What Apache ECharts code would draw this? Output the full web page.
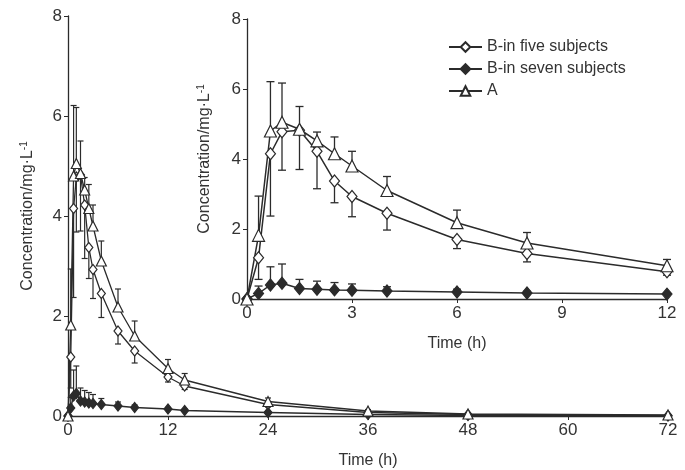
<!DOCTYPE html>
<html><head><meta charset="utf-8">
<script src="https://cdn.jsdelivr.net/npm/echarts@6/dist/echarts.min.js"></script>
<style>html,body{margin:0;padding:0;background:#fff}#c{width:685px;height:470px}</style>
</head><body><div id="c"></div>
<script>
// Data
const times   = [0, 0.33, 0.67, 1, 1.5, 2, 2.5, 3, 4, 6, 8, 12, 14, 24, 36, 48, 72];
const aMean   = [0, 1.82, 4.80, 5.05, 4.85, 4.52, 4.15, 3.80, 3.10, 2.18, 1.60, 0.95, 0.72, 0.29, 0.10, 0.04, 0.02];
const aErr    = [0, 1.12, 1.41, 1.12, 0.65, 0.25, 0.48, 0.42, 0.40, 0.36, 0.30, 0.18, 0.13, 0.07, 0.03, 0.02, 0.02];
const b5Mean  = [0, 1.18, 4.15, 4.78, 4.82, 4.22, 3.37, 2.93, 2.45, 1.70, 1.30, 0.78, 0.60, 0.23, 0.07, 0.03, 0.01];
const b5Err   = [0, 0.62, 1.78, 1.10, 1.12, 1.07, 0.62, 0.58, 0.48, 0.26, 0.24, 0.10, 0.07, 0.05, 0.02, 0.01, 0.01];
const b7Mean  = [0, 0.16, 0.40, 0.45, 0.30, 0.28, 0.26, 0.25, 0.23, 0.20, 0.17, 0.14, 0.11, 0.07, 0.03, 0.01, 0.00];
const b7Err   = [0, 0.21, 0.52, 0.55, 0.26, 0.23, 0.21, 0.18, 0.12, 0.08, 0.05, 0.03, 0.03, 0.02, 0.01, 0.01, 0.00];
const insetMaxTime = 12;
const seriesNames = ['B-in five subjects', 'B-in seven subjects', 'A'];
const yTitle = 'Concentration/mg·L';
const xTitle = 'Time (h)';

const INK = '#2b2b2b';
const TXT = '#333';
const FONT = 'Liberation Sans';

function pts(mean, maxT) {
  const out = [];
  times.forEach((t, i) => { if (t <= maxT) out.push([t, mean[i]]); });
  return out;
}
function errPts(mean, err, dir, maxT) {
  const out = [];
  times.forEach((t, i) => { if (t <= maxT && err[i] > 0) out.push([t, mean[i], mean[i] + dir * err[i]]); });
  return out;
}
function errSeries(data, xi, cap, lw) {
  return {
    type: 'custom', xAxisIndex: xi, yAxisIndex: xi, silent: true, z: 1,
    data: data,
    renderItem: function (params, api) {
      const p1 = api.coord([api.value(0), api.value(1)]);
      const p2 = api.coord([api.value(0), api.value(2)]);
      const st = { stroke: INK, lineWidth: lw };
      return { type: 'group', children: [
        { type: 'line', shape: { x1: p1[0], y1: p1[1], x2: p2[0], y2: p2[1] }, style: st },
        { type: 'line', shape: { x1: p2[0] - cap, y1: p2[1], x2: p2[0] + cap, y2: p2[1] }, style: st }
      ]};
    }
  };
}
function lineSeries(name, data, xi, symbol, size, fill, lw) {
  return {
    name: name, type: 'line', xAxisIndex: xi, yAxisIndex: xi, z: 3,
    data: data, symbol: symbol, symbolSize: size, showSymbol: true,
    lineStyle: { color: INK, width: lw },
    itemStyle: { color: fill, borderColor: INK, borderWidth: 1.2 },
    emphasis: { disabled: true }, animation: false
  };
}

const maxT = times[times.length - 1];
const axisCommon = {
  axisLine: { show: true, lineStyle: { color: INK, width: 1.3 } },
  axisTick: { show: true, inside: false, length: 4, lineStyle: { color: INK } },
  splitLine: { show: false },
  axisLabel: { color: TXT, fontFamily: FONT, fontSize: 17, margin: 6 },
  nameTextStyle: { color: TXT, fontFamily: FONT, fontSize: 16 }
};
const yName = '{a|' + yTitle + '}{s|-1}';
const yRich = { a: { color: TXT, fontFamily: FONT, fontSize: 16 }, s: { color: TXT, fontFamily: FONT, fontSize: 10, verticalAlign: 'top', padding: [0,0,8,0] } };

const option = {
  animation: false,
  backgroundColor: '#fff',
  grid: [
    { left: 68, top: 16, width: 600, height: 400, containLabel: false, outerBoundsMode: 'none' },
    { left: 247, top: 19, width: 420, height: 280, containLabel: false, outerBoundsMode: 'none' }
  ],
  legend: {
    data: seriesNames, orient: 'vertical', left: 443, top: 34,
    itemWidth: 33, itemHeight: 12, itemGap: 6,
    textStyle: { color: TXT, fontFamily: FONT, fontSize: 16 },
    selectedMode: false
  },
  xAxis: [
    Object.assign({}, axisCommon, { type: 'value', gridIndex: 0, min: 0, max: maxT, interval: 12,
      name: xTitle, nameLocation: 'middle', nameGap: 37 }),
    Object.assign({}, axisCommon, { type: 'value', gridIndex: 1, min: 0, max: insetMaxTime, interval: 3,
      name: xTitle, nameLocation: 'middle', nameGap: 37 })
  ],
  yAxis: [
    Object.assign({}, axisCommon, { type: 'value', gridIndex: 0, min: 0, max: 8, interval: 2,
      name: yName, nameLocation: 'middle', nameGap: 31, nameTextStyle: { rich: yRich } }),
    Object.assign({}, axisCommon, { type: 'value', gridIndex: 1, min: 0, max: 8, interval: 2,
      name: yName, nameLocation: 'middle', nameGap: 33, nameTextStyle: { rich: yRich } })
  ],
  series: [
    // main chart
    errSeries(errPts(aMean, aErr, 1, maxT), 0, 3, 1.2),
    errSeries(errPts(b5Mean, b5Err, -1, maxT), 0, 3, 1.2),
    errSeries(errPts(b7Mean, b7Err, 1, maxT), 0, 3, 1.2),
    lineSeries(seriesNames[0], pts(b5Mean, maxT), 0, 'diamond', [8, 10], '#fff', 1.3),
    lineSeries(seriesNames[1], pts(b7Mean, maxT), 0, 'diamond', [8, 10], INK, 1.3),
    lineSeries(seriesNames[2], pts(aMean, maxT), 0, 'triangle', 10, '#fff', 1.3),
    // inset
    errSeries(errPts(aMean, aErr, 1, insetMaxTime), 1, 4, 1.3),
    errSeries(errPts(b5Mean, b5Err, -1, insetMaxTime), 1, 4, 1.3),
    errSeries(errPts(b7Mean, b7Err, 1, insetMaxTime), 1, 4, 1.3),
    lineSeries(seriesNames[0], pts(b5Mean, insetMaxTime), 1, 'diamond', [10, 12], '#fff', 1.5),
    lineSeries(seriesNames[1], pts(b7Mean, insetMaxTime), 1, 'diamond', [10, 12], INK, 1.5),
    lineSeries(seriesNames[2], pts(aMean, insetMaxTime), 1, 'triangle', 12, '#fff', 1.5)
  ]
};
const chart = echarts.init(document.getElementById('c'), null, { renderer: 'canvas' });
chart.setOption(option);
</script></body></html>
